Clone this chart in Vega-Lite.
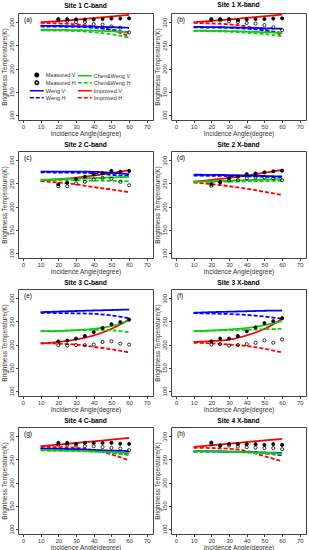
{
  "$schema": "https://vega.github.io/schema/vega-lite/v6.json",
  "padding": {"left": 1, "top": 1, "right": 0, "bottom": 0},
  "background": "white",
  "config": {
    "font": "Liberation Sans",
    "view": {"stroke": "#444", "strokeWidth": 1},
    "axis": {"grid": false, "domain": false, "labelFontSize": 6, "titleFontSize": 6.5, "titleFontWeight": "normal", "tickSize": 2.5, "tickColor": "#444", "labelColor": "#333", "titleColor": "#333", "labelPadding": 1, "titlePadding": 1, "labelOverlap": false, "labelFlush": false},
    "legend": {"orient": "none", "legendX": 16, "legendY": 59, "columns": 2, "labelFontSize": 5.5, "symbolSize": 12, "symbolStrokeWidth": 1.5, "rowPadding": -2.2, "columnPadding": -2, "labelOffset": 6.3, "padding": 0, "labelLimit": 0, "labelColor": "#333"}
  },
  "data": {"values": [
    {"p":"Site 1 C-band","s":"label","t":"(a)"},
    {"p":"Site 1 X-band","s":"label","t":"(b)"},
    {"p":"Site 2 C-band","s":"label","t":"(c)"},
    {"p":"Site 2 X-band","s":"label","t":"(d)"},
    {"p":"Site 3 C-band","s":"label","t":"(e)"},
    {"p":"Site 3 X-band","s":"label","t":"(f)"},
    {"p":"Site 4 C-band","s":"label","t":"(g)"},
    {"p":"Site 4 X-band","s":"label","t":"(h)"},

    {"p":"Site 1 C-band","s":"Improved V","x":10,"y":300},{"p":"Site 1 C-band","s":"Improved V","x":20,"y":302.5},{"p":"Site 1 C-band","s":"Improved V","x":30,"y":305.5},{"p":"Site 1 C-band","s":"Improved V","x":40,"y":309},{"p":"Site 1 C-band","s":"Improved V","x":50,"y":312.5},{"p":"Site 1 C-band","s":"Improved V","x":60,"y":316},
    {"p":"Site 1 C-band","s":"Improved H","x":10,"y":298.5},{"p":"Site 1 C-band","s":"Improved H","x":20,"y":297.5},{"p":"Site 1 C-band","s":"Improved H","x":30,"y":295.5},{"p":"Site 1 C-band","s":"Improved H","x":40,"y":291},{"p":"Site 1 C-band","s":"Improved H","x":50,"y":283},{"p":"Site 1 C-band","s":"Improved H","x":60,"y":270},
    {"p":"Site 1 C-band","s":"Weng V","x":10,"y":292.5},{"p":"Site 1 C-band","s":"Weng V","x":20,"y":292},{"p":"Site 1 C-band","s":"Weng V","x":30,"y":291.5},{"p":"Site 1 C-band","s":"Weng V","x":40,"y":290.5},{"p":"Site 1 C-band","s":"Weng V","x":50,"y":289.5},{"p":"Site 1 C-band","s":"Weng V","x":60,"y":288},
    {"p":"Site 1 C-band","s":"Weng H","x":10,"y":291},{"p":"Site 1 C-band","s":"Weng H","x":20,"y":290.5},{"p":"Site 1 C-band","s":"Weng H","x":30,"y":290},{"p":"Site 1 C-band","s":"Weng H","x":40,"y":288},{"p":"Site 1 C-band","s":"Weng H","x":50,"y":284},{"p":"Site 1 C-band","s":"Weng H","x":60,"y":277},
    {"p":"Site 1 C-band","s":"Chen&Weng V","x":10,"y":284},{"p":"Site 1 C-band","s":"Chen&Weng V","x":20,"y":283.5},{"p":"Site 1 C-band","s":"Chen&Weng V","x":30,"y":283},{"p":"Site 1 C-band","s":"Chen&Weng V","x":40,"y":282},{"p":"Site 1 C-band","s":"Chen&Weng V","x":50,"y":280.5},{"p":"Site 1 C-band","s":"Chen&Weng V","x":60,"y":278.5},
    {"p":"Site 1 C-band","s":"Chen&Weng H","x":10,"y":282.5},{"p":"Site 1 C-band","s":"Chen&Weng H","x":20,"y":282},{"p":"Site 1 C-band","s":"Chen&Weng H","x":30,"y":281},{"p":"Site 1 C-band","s":"Chen&Weng H","x":40,"y":278.5},{"p":"Site 1 C-band","s":"Chen&Weng H","x":50,"y":274},{"p":"Site 1 C-band","s":"Chen&Weng H","x":60,"y":267},
    {"p":"Site 1 C-band","s":"Measured V","x":20,"y":307},{"p":"Site 1 C-band","s":"Measured V","x":25,"y":307},{"p":"Site 1 C-band","s":"Measured V","x":30,"y":306.5},{"p":"Site 1 C-band","s":"Measured V","x":35,"y":306},{"p":"Site 1 C-band","s":"Measured V","x":40,"y":306},{"p":"Site 1 C-band","s":"Measured V","x":45,"y":307},{"p":"Site 1 C-band","s":"Measured V","x":50,"y":308},{"p":"Site 1 C-band","s":"Measured V","x":55,"y":308},{"p":"Site 1 C-band","s":"Measured V","x":60,"y":308.5},
    {"p":"Site 1 C-band","s":"Measured H","x":20,"y":304},{"p":"Site 1 C-band","s":"Measured H","x":25,"y":303},{"p":"Site 1 C-band","s":"Measured H","x":30,"y":300.5},{"p":"Site 1 C-band","s":"Measured H","x":35,"y":300.5},{"p":"Site 1 C-band","s":"Measured H","x":40,"y":296},{"p":"Site 1 C-band","s":"Measured H","x":45,"y":295},{"p":"Site 1 C-band","s":"Measured H","x":50,"y":291},{"p":"Site 1 C-band","s":"Measured H","x":55,"y":288},{"p":"Site 1 C-band","s":"Measured H","x":60,"y":278},

    {"p":"Site 1 X-band","s":"Improved V","x":10,"y":300},{"p":"Site 1 X-band","s":"Improved V","x":20,"y":303},{"p":"Site 1 X-band","s":"Improved V","x":30,"y":306},{"p":"Site 1 X-band","s":"Improved V","x":40,"y":309.5},{"p":"Site 1 X-band","s":"Improved V","x":50,"y":313},{"p":"Site 1 X-band","s":"Improved V","x":60,"y":316.5},
    {"p":"Site 1 X-band","s":"Improved H","x":10,"y":298.5},{"p":"Site 1 X-band","s":"Improved H","x":20,"y":297.5},{"p":"Site 1 X-band","s":"Improved H","x":30,"y":295.5},{"p":"Site 1 X-band","s":"Improved H","x":40,"y":291},{"p":"Site 1 X-band","s":"Improved H","x":50,"y":284},{"p":"Site 1 X-band","s":"Improved H","x":60,"y":273},
    {"p":"Site 1 X-band","s":"Weng V","x":10,"y":290},{"p":"Site 1 X-band","s":"Weng V","x":20,"y":289.5},{"p":"Site 1 X-band","s":"Weng V","x":30,"y":289},{"p":"Site 1 X-band","s":"Weng V","x":40,"y":288},{"p":"Site 1 X-band","s":"Weng V","x":50,"y":287},{"p":"Site 1 X-band","s":"Weng V","x":60,"y":286},
    {"p":"Site 1 X-band","s":"Weng H","x":10,"y":289},{"p":"Site 1 X-band","s":"Weng H","x":20,"y":288.5},{"p":"Site 1 X-band","s":"Weng H","x":30,"y":288},{"p":"Site 1 X-band","s":"Weng H","x":40,"y":286},{"p":"Site 1 X-band","s":"Weng H","x":50,"y":282.5},{"p":"Site 1 X-band","s":"Weng H","x":60,"y":277},
    {"p":"Site 1 X-band","s":"Chen&Weng V","x":10,"y":282},{"p":"Site 1 X-band","s":"Chen&Weng V","x":20,"y":281.5},{"p":"Site 1 X-band","s":"Chen&Weng V","x":30,"y":281},{"p":"Site 1 X-band","s":"Chen&Weng V","x":40,"y":280},{"p":"Site 1 X-band","s":"Chen&Weng V","x":50,"y":278.5},{"p":"Site 1 X-band","s":"Chen&Weng V","x":60,"y":277},
    {"p":"Site 1 X-band","s":"Chen&Weng H","x":10,"y":281},{"p":"Site 1 X-band","s":"Chen&Weng H","x":20,"y":280.5},{"p":"Site 1 X-band","s":"Chen&Weng H","x":30,"y":279.5},{"p":"Site 1 X-band","s":"Chen&Weng H","x":40,"y":277.5},{"p":"Site 1 X-band","s":"Chen&Weng H","x":50,"y":274.5},{"p":"Site 1 X-band","s":"Chen&Weng H","x":60,"y":270},
    {"p":"Site 1 X-band","s":"Measured V","x":20,"y":307},{"p":"Site 1 X-band","s":"Measured V","x":25,"y":307},{"p":"Site 1 X-band","s":"Measured V","x":30,"y":307},{"p":"Site 1 X-band","s":"Measured V","x":35,"y":305},{"p":"Site 1 X-band","s":"Measured V","x":40,"y":306},{"p":"Site 1 X-band","s":"Measured V","x":45,"y":307},{"p":"Site 1 X-band","s":"Measured V","x":50,"y":307},{"p":"Site 1 X-band","s":"Measured V","x":55,"y":308},{"p":"Site 1 X-band","s":"Measured V","x":60,"y":308.5},
    {"p":"Site 1 X-band","s":"Measured H","x":20,"y":305},{"p":"Site 1 X-band","s":"Measured H","x":25,"y":304},{"p":"Site 1 X-band","s":"Measured H","x":30,"y":302},{"p":"Site 1 X-band","s":"Measured H","x":35,"y":300.5},{"p":"Site 1 X-band","s":"Measured H","x":40,"y":298.5},{"p":"Site 1 X-band","s":"Measured H","x":45,"y":297},{"p":"Site 1 X-band","s":"Measured H","x":50,"y":294},{"p":"Site 1 X-band","s":"Measured H","x":55,"y":289},{"p":"Site 1 X-band","s":"Measured H","x":60,"y":283},

    {"p":"Site 2 C-band","s":"Improved V","x":10,"y":256.5},{"p":"Site 2 C-band","s":"Improved V","x":20,"y":259},{"p":"Site 2 C-band","s":"Improved V","x":30,"y":262.5},{"p":"Site 2 C-band","s":"Improved V","x":40,"y":267},{"p":"Site 2 C-band","s":"Improved V","x":50,"y":272.5},{"p":"Site 2 C-band","s":"Improved V","x":60,"y":278.5},
    {"p":"Site 2 C-band","s":"Improved H","x":10,"y":255},{"p":"Site 2 C-band","s":"Improved H","x":20,"y":252},{"p":"Site 2 C-band","s":"Improved H","x":30,"y":248},{"p":"Site 2 C-band","s":"Improved H","x":40,"y":242},{"p":"Site 2 C-band","s":"Improved H","x":50,"y":237},{"p":"Site 2 C-band","s":"Improved H","x":60,"y":231},
    {"p":"Site 2 C-band","s":"Weng V","x":10,"y":275.5},{"p":"Site 2 C-band","s":"Weng V","x":20,"y":275.5},{"p":"Site 2 C-band","s":"Weng V","x":30,"y":275.5},{"p":"Site 2 C-band","s":"Weng V","x":40,"y":275},{"p":"Site 2 C-band","s":"Weng V","x":50,"y":273},{"p":"Site 2 C-band","s":"Weng V","x":60,"y":270},
    {"p":"Site 2 C-band","s":"Weng H","x":10,"y":274},{"p":"Site 2 C-band","s":"Weng H","x":20,"y":273.5},{"p":"Site 2 C-band","s":"Weng H","x":30,"y":273},{"p":"Site 2 C-band","s":"Weng H","x":40,"y":272},{"p":"Site 2 C-band","s":"Weng H","x":50,"y":268.5},{"p":"Site 2 C-band","s":"Weng H","x":60,"y":266},
    {"p":"Site 2 C-band","s":"Chen&Weng V","x":10,"y":258},{"p":"Site 2 C-band","s":"Chen&Weng V","x":20,"y":259},{"p":"Site 2 C-band","s":"Chen&Weng V","x":30,"y":260.5},{"p":"Site 2 C-band","s":"Chen&Weng V","x":40,"y":261.5},{"p":"Site 2 C-band","s":"Chen&Weng V","x":50,"y":263},{"p":"Site 2 C-band","s":"Chen&Weng V","x":60,"y":264},
    {"p":"Site 2 C-band","s":"Chen&Weng H","x":10,"y":257.3},{"p":"Site 2 C-band","s":"Chen&Weng H","x":20,"y":257},{"p":"Site 2 C-band","s":"Chen&Weng H","x":30,"y":256.5},{"p":"Site 2 C-band","s":"Chen&Weng H","x":40,"y":256},{"p":"Site 2 C-band","s":"Chen&Weng H","x":50,"y":255.5},{"p":"Site 2 C-band","s":"Chen&Weng H","x":60,"y":254.5},
    {"p":"Site 2 C-band","s":"Measured V","x":20,"y":248},{"p":"Site 2 C-band","s":"Measured V","x":25,"y":251.5},{"p":"Site 2 C-band","s":"Measured V","x":30,"y":259},{"p":"Site 2 C-band","s":"Measured V","x":35,"y":264.5},{"p":"Site 2 C-band","s":"Measured V","x":40,"y":269.5},{"p":"Site 2 C-band","s":"Measured V","x":45,"y":272},{"p":"Site 2 C-band","s":"Measured V","x":50,"y":277},{"p":"Site 2 C-band","s":"Measured V","x":55,"y":275.5},{"p":"Site 2 C-band","s":"Measured V","x":60,"y":277},
    {"p":"Site 2 C-band","s":"Measured H","x":20,"y":244},{"p":"Site 2 C-band","s":"Measured H","x":25,"y":244},{"p":"Site 2 C-band","s":"Measured H","x":30,"y":250},{"p":"Site 2 C-band","s":"Measured H","x":35,"y":253.5},{"p":"Site 2 C-band","s":"Measured H","x":40,"y":258.5},{"p":"Site 2 C-band","s":"Measured H","x":45,"y":262},{"p":"Site 2 C-band","s":"Measured H","x":50,"y":260},{"p":"Site 2 C-band","s":"Measured H","x":55,"y":253.5},{"p":"Site 2 C-band","s":"Measured H","x":60,"y":246},

    {"p":"Site 2 X-band","s":"Improved V","x":10,"y":253.6},{"p":"Site 2 X-band","s":"Improved V","x":20,"y":257.5},{"p":"Site 2 X-band","s":"Improved V","x":30,"y":262},{"p":"Site 2 X-band","s":"Improved V","x":40,"y":267},{"p":"Site 2 X-band","s":"Improved V","x":50,"y":273},{"p":"Site 2 X-band","s":"Improved V","x":60,"y":279},
    {"p":"Site 2 X-band","s":"Improved H","x":10,"y":252},{"p":"Site 2 X-band","s":"Improved H","x":20,"y":248.5},{"p":"Site 2 X-band","s":"Improved H","x":30,"y":244},{"p":"Site 2 X-band","s":"Improved H","x":40,"y":238.5},{"p":"Site 2 X-band","s":"Improved H","x":50,"y":232},{"p":"Site 2 X-band","s":"Improved H","x":60,"y":225},
    {"p":"Site 2 X-band","s":"Weng V","x":10,"y":268.8},{"p":"Site 2 X-band","s":"Weng V","x":20,"y":268.5},{"p":"Site 2 X-band","s":"Weng V","x":30,"y":268},{"p":"Site 2 X-band","s":"Weng V","x":40,"y":267},{"p":"Site 2 X-band","s":"Weng V","x":50,"y":266},{"p":"Site 2 X-band","s":"Weng V","x":60,"y":265},
    {"p":"Site 2 X-band","s":"Weng H","x":10,"y":266.7},{"p":"Site 2 X-band","s":"Weng H","x":20,"y":266.5},{"p":"Site 2 X-band","s":"Weng H","x":30,"y":266},{"p":"Site 2 X-band","s":"Weng H","x":40,"y":265.5},{"p":"Site 2 X-band","s":"Weng H","x":50,"y":264.5},{"p":"Site 2 X-band","s":"Weng H","x":60,"y":263},
    {"p":"Site 2 X-band","s":"Chen&Weng V","x":10,"y":253.6},{"p":"Site 2 X-band","s":"Chen&Weng V","x":20,"y":254.5},{"p":"Site 2 X-band","s":"Chen&Weng V","x":30,"y":256},{"p":"Site 2 X-band","s":"Chen&Weng V","x":40,"y":257},{"p":"Site 2 X-band","s":"Chen&Weng V","x":50,"y":258.3},{"p":"Site 2 X-band","s":"Chen&Weng V","x":60,"y":259.4},
    {"p":"Site 2 X-band","s":"Chen&Weng H","x":10,"y":253.6},{"p":"Site 2 X-band","s":"Chen&Weng H","x":20,"y":253.5},{"p":"Site 2 X-band","s":"Chen&Weng H","x":30,"y":254},{"p":"Site 2 X-band","s":"Chen&Weng H","x":40,"y":254.5},{"p":"Site 2 X-band","s":"Chen&Weng H","x":50,"y":255},{"p":"Site 2 X-band","s":"Chen&Weng H","x":60,"y":255.8},
    {"p":"Site 2 X-band","s":"Measured V","x":20,"y":248.6},{"p":"Site 2 X-band","s":"Measured V","x":25,"y":253},{"p":"Site 2 X-band","s":"Measured V","x":30,"y":261.5},{"p":"Site 2 X-band","s":"Measured V","x":35,"y":265},{"p":"Site 2 X-band","s":"Measured V","x":40,"y":270},{"p":"Site 2 X-band","s":"Measured V","x":45,"y":271.7},{"p":"Site 2 X-band","s":"Measured V","x":50,"y":274},{"p":"Site 2 X-band","s":"Measured V","x":55,"y":276},{"p":"Site 2 X-band","s":"Measured V","x":60,"y":277.5},
    {"p":"Site 2 X-band","s":"Measured H","x":20,"y":245},{"p":"Site 2 X-band","s":"Measured H","x":25,"y":252},{"p":"Site 2 X-band","s":"Measured H","x":30,"y":255.8},{"p":"Site 2 X-band","s":"Measured H","x":35,"y":257},{"p":"Site 2 X-band","s":"Measured H","x":40,"y":261},{"p":"Site 2 X-band","s":"Measured H","x":45,"y":263},{"p":"Site 2 X-band","s":"Measured H","x":50,"y":263},{"p":"Site 2 X-band","s":"Measured H","x":55,"y":261},{"p":"Site 2 X-band","s":"Measured H","x":60,"y":257},

    {"p":"Site 3 C-band","s":"Improved V","x":10,"y":202},{"p":"Site 3 C-band","s":"Improved V","x":20,"y":205.7},{"p":"Site 3 C-band","s":"Improved V","x":30,"y":211},{"p":"Site 3 C-band","s":"Improved V","x":40,"y":220},{"p":"Site 3 C-band","s":"Improved V","x":50,"y":234},{"p":"Site 3 C-band","s":"Improved V","x":60,"y":254},
    {"p":"Site 3 C-band","s":"Improved H","x":10,"y":203.6},{"p":"Site 3 C-band","s":"Improved H","x":20,"y":202},{"p":"Site 3 C-band","s":"Improved H","x":30,"y":200},{"p":"Site 3 C-band","s":"Improved H","x":40,"y":195},{"p":"Site 3 C-band","s":"Improved H","x":50,"y":190},{"p":"Site 3 C-band","s":"Improved H","x":60,"y":183},
    {"p":"Site 3 C-band","s":"Weng V","x":10,"y":270},{"p":"Site 3 C-band","s":"Weng V","x":20,"y":271.3},{"p":"Site 3 C-band","s":"Weng V","x":30,"y":272.5},{"p":"Site 3 C-band","s":"Weng V","x":40,"y":273.6},{"p":"Site 3 C-band","s":"Weng V","x":50,"y":274.6},{"p":"Site 3 C-band","s":"Weng V","x":60,"y":275.7},
    {"p":"Site 3 C-band","s":"Weng H","x":10,"y":268.6},{"p":"Site 3 C-band","s":"Weng H","x":20,"y":268},{"p":"Site 3 C-band","s":"Weng H","x":30,"y":267.5},{"p":"Site 3 C-band","s":"Weng H","x":40,"y":266.4},{"p":"Site 3 C-band","s":"Weng H","x":50,"y":263},{"p":"Site 3 C-band","s":"Weng H","x":60,"y":257},
    {"p":"Site 3 C-band","s":"Chen&Weng V","x":10,"y":229},{"p":"Site 3 C-band","s":"Chen&Weng V","x":20,"y":229.5},{"p":"Site 3 C-band","s":"Chen&Weng V","x":30,"y":231},{"p":"Site 3 C-band","s":"Chen&Weng V","x":40,"y":234},{"p":"Site 3 C-band","s":"Chen&Weng V","x":50,"y":240},{"p":"Site 3 C-band","s":"Chen&Weng V","x":60,"y":252},
    {"p":"Site 3 C-band","s":"Chen&Weng H","x":10,"y":228.6},{"p":"Site 3 C-band","s":"Chen&Weng H","x":20,"y":229.5},{"p":"Site 3 C-band","s":"Chen&Weng H","x":30,"y":231},{"p":"Site 3 C-band","s":"Chen&Weng H","x":40,"y":232},{"p":"Site 3 C-band","s":"Chen&Weng H","x":50,"y":230.7},{"p":"Site 3 C-band","s":"Chen&Weng H","x":60,"y":227},
    {"p":"Site 3 C-band","s":"Measured V","x":20,"y":207},{"p":"Site 3 C-band","s":"Measured V","x":25,"y":208.6},{"p":"Site 3 C-band","s":"Measured V","x":30,"y":213},{"p":"Site 3 C-band","s":"Measured V","x":35,"y":218.6},{"p":"Site 3 C-band","s":"Measured V","x":40,"y":227},{"p":"Site 3 C-band","s":"Measured V","x":45,"y":236},{"p":"Site 3 C-band","s":"Measured V","x":50,"y":244},{"p":"Site 3 C-band","s":"Measured V","x":55,"y":248.6},{"p":"Site 3 C-band","s":"Measured V","x":60,"y":254},
    {"p":"Site 3 C-band","s":"Measured H","x":20,"y":198.6},{"p":"Site 3 C-band","s":"Measured H","x":25,"y":198},{"p":"Site 3 C-band","s":"Measured H","x":30,"y":199},{"p":"Site 3 C-band","s":"Measured H","x":35,"y":198.6},{"p":"Site 3 C-band","s":"Measured H","x":40,"y":200},{"p":"Site 3 C-band","s":"Measured H","x":45,"y":205.7},{"p":"Site 3 C-band","s":"Measured H","x":50,"y":207},{"p":"Site 3 C-band","s":"Measured H","x":55,"y":202},{"p":"Site 3 C-band","s":"Measured H","x":60,"y":200},

    {"p":"Site 3 X-band","s":"Improved V","x":10,"y":205.7},{"p":"Site 3 X-band","s":"Improved V","x":20,"y":207.5},{"p":"Site 3 X-band","s":"Improved V","x":30,"y":210.7},{"p":"Site 3 X-band","s":"Improved V","x":40,"y":220},{"p":"Site 3 X-band","s":"Improved V","x":50,"y":234},{"p":"Site 3 X-band","s":"Improved V","x":60,"y":255.7},
    {"p":"Site 3 X-band","s":"Improved H","x":10,"y":204},{"p":"Site 3 X-band","s":"Improved H","x":20,"y":202.5},{"p":"Site 3 X-band","s":"Improved H","x":30,"y":200},{"p":"Site 3 X-band","s":"Improved H","x":40,"y":197},{"p":"Site 3 X-band","s":"Improved H","x":50,"y":191},{"p":"Site 3 X-band","s":"Improved H","x":60,"y":183},
    {"p":"Site 3 X-band","s":"Weng V","x":10,"y":268.6},{"p":"Site 3 X-band","s":"Weng V","x":20,"y":270},{"p":"Site 3 X-band","s":"Weng V","x":30,"y":271},{"p":"Site 3 X-band","s":"Weng V","x":40,"y":272},{"p":"Site 3 X-band","s":"Weng V","x":50,"y":273},{"p":"Site 3 X-band","s":"Weng V","x":60,"y":273.6},
    {"p":"Site 3 X-band","s":"Weng H","x":10,"y":268},{"p":"Site 3 X-band","s":"Weng H","x":20,"y":267},{"p":"Site 3 X-band","s":"Weng H","x":30,"y":266},{"p":"Site 3 X-band","s":"Weng H","x":40,"y":264},{"p":"Site 3 X-band","s":"Weng H","x":50,"y":260.5},{"p":"Site 3 X-band","s":"Weng H","x":60,"y":255.7},
    {"p":"Site 3 X-band","s":"Chen&Weng V","x":10,"y":229},{"p":"Site 3 X-band","s":"Chen&Weng V","x":20,"y":230.5},{"p":"Site 3 X-band","s":"Chen&Weng V","x":30,"y":232.5},{"p":"Site 3 X-band","s":"Chen&Weng V","x":40,"y":236},{"p":"Site 3 X-band","s":"Chen&Weng V","x":50,"y":242},{"p":"Site 3 X-band","s":"Chen&Weng V","x":60,"y":250.7},
    {"p":"Site 3 X-band","s":"Chen&Weng H","x":10,"y":229},{"p":"Site 3 X-band","s":"Chen&Weng H","x":20,"y":230},{"p":"Site 3 X-band","s":"Chen&Weng H","x":30,"y":231},{"p":"Site 3 X-band","s":"Chen&Weng H","x":40,"y":232},{"p":"Site 3 X-band","s":"Chen&Weng H","x":50,"y":233},{"p":"Site 3 X-band","s":"Chen&Weng H","x":60,"y":234},
    {"p":"Site 3 X-band","s":"Measured V","x":20,"y":207},{"p":"Site 3 X-band","s":"Measured V","x":25,"y":213},{"p":"Site 3 X-band","s":"Measured V","x":30,"y":213},{"p":"Site 3 X-band","s":"Measured V","x":35,"y":218.6},{"p":"Site 3 X-band","s":"Measured V","x":40,"y":228.6},{"p":"Site 3 X-band","s":"Measured V","x":45,"y":237},{"p":"Site 3 X-band","s":"Measured V","x":50,"y":246.4},{"p":"Site 3 X-band","s":"Measured V","x":55,"y":250.7},{"p":"Site 3 X-band","s":"Measured V","x":60,"y":257},
    {"p":"Site 3 X-band","s":"Measured H","x":20,"y":200},{"p":"Site 3 X-band","s":"Measured H","x":25,"y":201},{"p":"Site 3 X-band","s":"Measured H","x":30,"y":198},{"p":"Site 3 X-band","s":"Measured H","x":35,"y":199},{"p":"Site 3 X-band","s":"Measured H","x":40,"y":201},{"p":"Site 3 X-band","s":"Measured H","x":45,"y":203.6},{"p":"Site 3 X-band","s":"Measured H","x":50,"y":209},{"p":"Site 3 X-band","s":"Measured H","x":55,"y":204},{"p":"Site 3 X-band","s":"Measured H","x":60,"y":211},

    {"p":"Site 4 C-band","s":"Improved V","x":10,"y":278.6},{"p":"Site 4 C-band","s":"Improved V","x":20,"y":282},{"p":"Site 4 C-band","s":"Improved V","x":30,"y":285.5},{"p":"Site 4 C-band","s":"Improved V","x":40,"y":289},{"p":"Site 4 C-band","s":"Improved V","x":50,"y":292.7},{"p":"Site 4 C-band","s":"Improved V","x":60,"y":296.4},
    {"p":"Site 4 C-band","s":"Improved H","x":10,"y":277},{"p":"Site 4 C-band","s":"Improved H","x":20,"y":276.5},{"p":"Site 4 C-band","s":"Improved H","x":30,"y":275},{"p":"Site 4 C-band","s":"Improved H","x":40,"y":270},{"p":"Site 4 C-band","s":"Improved H","x":50,"y":260.7},{"p":"Site 4 C-band","s":"Improved H","x":60,"y":248},
    {"p":"Site 4 C-band","s":"Weng V","x":10,"y":273.6},{"p":"Site 4 C-band","s":"Weng V","x":20,"y":273},{"p":"Site 4 C-band","s":"Weng V","x":30,"y":272},{"p":"Site 4 C-band","s":"Weng V","x":40,"y":270.5},{"p":"Site 4 C-band","s":"Weng V","x":50,"y":269},{"p":"Site 4 C-band","s":"Weng V","x":60,"y":268},
    {"p":"Site 4 C-band","s":"Weng H","x":10,"y":273},{"p":"Site 4 C-band","s":"Weng H","x":20,"y":272.5},{"p":"Site 4 C-band","s":"Weng H","x":30,"y":271.5},{"p":"Site 4 C-band","s":"Weng H","x":40,"y":269},{"p":"Site 4 C-band","s":"Weng H","x":50,"y":265.5},{"p":"Site 4 C-band","s":"Weng H","x":60,"y":260.7},
    {"p":"Site 4 C-band","s":"Chen&Weng V","x":10,"y":270},{"p":"Site 4 C-band","s":"Chen&Weng V","x":20,"y":269.5},{"p":"Site 4 C-band","s":"Chen&Weng V","x":30,"y":268.5},{"p":"Site 4 C-band","s":"Chen&Weng V","x":40,"y":267},{"p":"Site 4 C-band","s":"Chen&Weng V","x":50,"y":265.5},{"p":"Site 4 C-band","s":"Chen&Weng V","x":60,"y":264},
    {"p":"Site 4 C-band","s":"Chen&Weng H","x":10,"y":269},{"p":"Site 4 C-band","s":"Chen&Weng H","x":20,"y":268.5},{"p":"Site 4 C-band","s":"Chen&Weng H","x":30,"y":268},{"p":"Site 4 C-band","s":"Chen&Weng H","x":40,"y":267},{"p":"Site 4 C-band","s":"Chen&Weng H","x":50,"y":264},{"p":"Site 4 C-band","s":"Chen&Weng H","x":60,"y":259},
    {"p":"Site 4 C-band","s":"Measured V","x":20,"y":285.7},{"p":"Site 4 C-band","s":"Measured V","x":25,"y":285.7},{"p":"Site 4 C-band","s":"Measured V","x":30,"y":283.6},{"p":"Site 4 C-band","s":"Measured V","x":35,"y":285.7},{"p":"Site 4 C-band","s":"Measured V","x":40,"y":285.7},{"p":"Site 4 C-band","s":"Measured V","x":45,"y":285.7},{"p":"Site 4 C-band","s":"Measured V","x":50,"y":285.7},{"p":"Site 4 C-band","s":"Measured V","x":55,"y":284},{"p":"Site 4 C-band","s":"Measured V","x":60,"y":283.6},
    {"p":"Site 4 C-band","s":"Measured H","x":20,"y":282},{"p":"Site 4 C-band","s":"Measured H","x":25,"y":282},{"p":"Site 4 C-band","s":"Measured H","x":30,"y":280},{"p":"Site 4 C-band","s":"Measured H","x":35,"y":278.6},{"p":"Site 4 C-band","s":"Measured H","x":40,"y":278.6},{"p":"Site 4 C-band","s":"Measured H","x":45,"y":276.4},{"p":"Site 4 C-band","s":"Measured H","x":50,"y":275},{"p":"Site 4 C-band","s":"Measured H","x":55,"y":273.6},{"p":"Site 4 C-band","s":"Measured H","x":60,"y":270},

    {"p":"Site 4 X-band","s":"Improved V","x":10,"y":277},{"p":"Site 4 X-band","s":"Improved V","x":20,"y":280.5},{"p":"Site 4 X-band","s":"Improved V","x":30,"y":284},{"p":"Site 4 X-band","s":"Improved V","x":40,"y":287.5},{"p":"Site 4 X-band","s":"Improved V","x":50,"y":291},{"p":"Site 4 X-band","s":"Improved V","x":60,"y":294.3},
    {"p":"Site 4 X-band","s":"Improved H","x":10,"y":275},{"p":"Site 4 X-band","s":"Improved H","x":20,"y":274.5},{"p":"Site 4 X-band","s":"Improved H","x":30,"y":273},{"p":"Site 4 X-band","s":"Improved H","x":40,"y":268},{"p":"Site 4 X-band","s":"Improved H","x":50,"y":257},{"p":"Site 4 X-band","s":"Improved H","x":60,"y":246},
    {"p":"Site 4 X-band","s":"Weng V","x":10,"y":268},{"p":"Site 4 X-band","s":"Weng V","x":20,"y":267.5},{"p":"Site 4 X-band","s":"Weng V","x":30,"y":266.8},{"p":"Site 4 X-band","s":"Weng V","x":40,"y":266},{"p":"Site 4 X-band","s":"Weng V","x":50,"y":265},{"p":"Site 4 X-band","s":"Weng V","x":60,"y":264},
    {"p":"Site 4 X-band","s":"Weng H","x":10,"y":267},{"p":"Site 4 X-band","s":"Weng H","x":20,"y":266.8},{"p":"Site 4 X-band","s":"Weng H","x":30,"y":266.5},{"p":"Site 4 X-band","s":"Weng H","x":40,"y":266},{"p":"Site 4 X-band","s":"Weng H","x":50,"y":263},{"p":"Site 4 X-band","s":"Weng H","x":60,"y":259},
    {"p":"Site 4 X-band","s":"Chen&Weng V","x":10,"y":268},{"p":"Site 4 X-band","s":"Chen&Weng V","x":20,"y":267.3},{"p":"Site 4 X-band","s":"Chen&Weng V","x":30,"y":266.5},{"p":"Site 4 X-band","s":"Chen&Weng V","x":40,"y":265.5},{"p":"Site 4 X-band","s":"Chen&Weng V","x":50,"y":264.3},{"p":"Site 4 X-band","s":"Chen&Weng V","x":60,"y":263},
    {"p":"Site 4 X-band","s":"Chen&Weng H","x":10,"y":267},{"p":"Site 4 X-band","s":"Chen&Weng H","x":20,"y":266.5},{"p":"Site 4 X-band","s":"Chen&Weng H","x":30,"y":266},{"p":"Site 4 X-band","s":"Chen&Weng H","x":40,"y":265},{"p":"Site 4 X-band","s":"Chen&Weng H","x":50,"y":263},{"p":"Site 4 X-band","s":"Chen&Weng H","x":60,"y":261},
    {"p":"Site 4 X-band","s":"Measured V","x":20,"y":286.4},{"p":"Site 4 X-band","s":"Measured V","x":25,"y":280},{"p":"Site 4 X-band","s":"Measured V","x":30,"y":283.6},{"p":"Site 4 X-band","s":"Measured V","x":35,"y":283},{"p":"Site 4 X-band","s":"Measured V","x":40,"y":283},{"p":"Site 4 X-band","s":"Measured V","x":45,"y":283},{"p":"Site 4 X-band","s":"Measured V","x":50,"y":281.4},{"p":"Site 4 X-band","s":"Measured V","x":55,"y":283},{"p":"Site 4 X-band","s":"Measured V","x":60,"y":281.4},
    {"p":"Site 4 X-band","s":"Measured H","x":20,"y":283},{"p":"Site 4 X-band","s":"Measured H","x":25,"y":280},{"p":"Site 4 X-band","s":"Measured H","x":30,"y":280},{"p":"Site 4 X-band","s":"Measured H","x":35,"y":278},{"p":"Site 4 X-band","s":"Measured H","x":40,"y":276.4},{"p":"Site 4 X-band","s":"Measured H","x":45,"y":275.7},{"p":"Site 4 X-band","s":"Measured H","x":50,"y":274.3},{"p":"Site 4 X-band","s":"Measured H","x":55,"y":274.3},{"p":"Site 4 X-band","s":"Measured H","x":60,"y":272}
  ]},
  "facet": {"field": "p", "type": "nominal",
    "sort": ["Site 1 C-band","Site 1 X-band","Site 2 C-band","Site 2 X-band","Site 3 C-band","Site 3 X-band","Site 4 C-band","Site 4 X-band"],
    "header": {"title": null, "labelFontSize": 6.7, "labelFontWeight": "bold", "labelPadding": 2, "labelColor": "black"}},
  "columns": 2,
  "spacing": {"row": 3, "column": 0},
  "resolve": {"axis": {"x": "independent", "y": "independent"}},
  "spec": {
    "width": 135,
    "height": 107,
    "layer": [
      {
        "transform": [{"filter": "datum.s != 'Measured V' && datum.s != 'Measured H' && datum.s != 'label'"}],
        "mark": {"type": "line", "strokeWidth": 1.8, "interpolate": "monotone"},
        "encoding": {
          "x": {"field": "x", "type": "quantitative", "scale": {"domain": [-2.8, 73.5], "nice": false, "zero": false},
            "axis": {"tickCount": 8, "title": "Incidence Angle(degree)", "labelOverlap": false}},
          "y": {"field": "y", "type": "quantitative", "scale": {"domain": [89, 320], "nice": false, "zero": false},
            "axis": {"tickCount": 5, "labelAngle": -90, "title": "Brightness Temperature(K)", "labelOverlap": false}},
          "stroke": {"field": "s", "type": "nominal", "legend": {"title": null},
            "scale": {"domain": ["Measured V","Measured H","Weng V","Weng H","Chen&Weng V","Chen&Weng H","Improved V","Improved H"],
              "range": ["black","black","#0000FF","#0000FF","#11CC11","#11CC11","#FF0000","#FF0000"]}},
          "strokeDash": {"field": "s", "type": "nominal", "legend": {"title": null},
            "scale": {"domain": ["Measured V","Measured H","Weng V","Weng H","Chen&Weng V","Chen&Weng H","Improved V","Improved H"],
              "range": [[1,0],[1,0],[1,0],[4,2],[1,0],[4,2],[1,0],[4,2]]}}
        }
      },
      {
        "transform": [{"filter": "datum.s == 'Measured V' || datum.s == 'Measured H'"}],
        "mark": {"type": "point", "filled": true, "size": 10, "strokeWidth": 0.8, "opacity": 1},
        "encoding": {
          "x": {"field": "x", "type": "quantitative"},
          "y": {"field": "y", "type": "quantitative"},
          "stroke": {"field": "s", "type": "nominal", "legend": {"title": null}},
          "fill": {"field": "s", "type": "nominal", "legend": {"title": null},
            "scale": {"domain": ["Measured V","Measured H","Weng V","Weng H","Chen&Weng V","Chen&Weng H","Improved V","Improved H"],
              "range": ["black","transparent","transparent","transparent","transparent","transparent","transparent","transparent"]}},
          "shape": {"field": "s", "type": "nominal", "legend": {"title": null},
            "scale": {"domain": ["Measured V","Measured H","Weng V","Weng H","Chen&Weng V","Chen&Weng H","Improved V","Improved H"],
              "range": ["circle","circle","M-4,0H4","M-4,0H4","M-4,0H4","M-4,0H4","M-4,0H4","M-4,0H4"]}}
        }
      },
      {
        "transform": [{"filter": "datum.s == 'label'"}],
        "mark": {"type": "text", "align": "left", "baseline": "middle", "fontSize": 6.5, "color": "black"},
        "encoding": {
          "x": {"datum": 0.6, "type": "quantitative"},
          "y": {"datum": 304, "type": "quantitative"},
          "text": {"field": "t", "type": "nominal"}
        }
      }
    ]
  }
}
